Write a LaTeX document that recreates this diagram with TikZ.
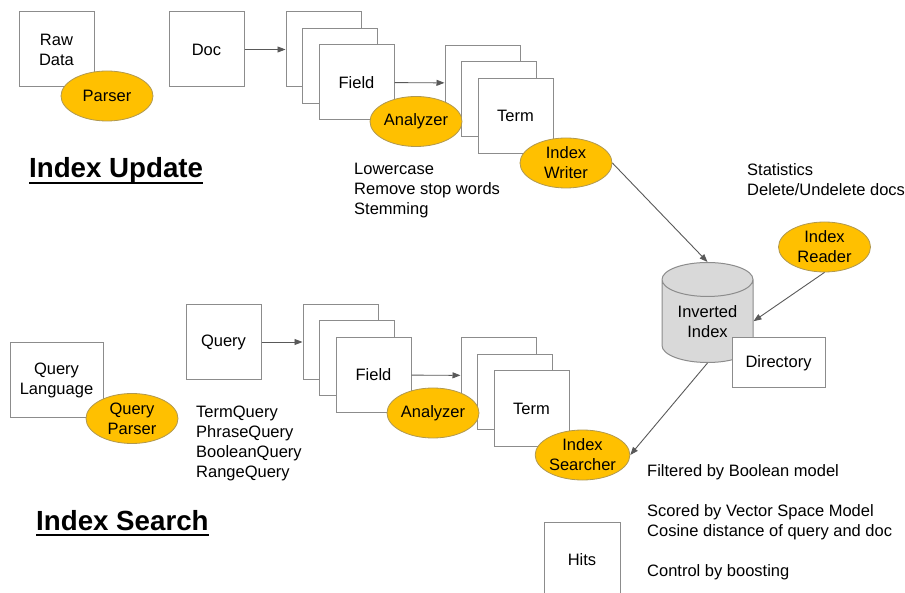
\documentclass[tikz,border=0pt]{standalone}
\usepackage{fontspec}
\setmainfont{Liberation Sans}
\usetikzlibrary{positioning, shapes.geometric, arrows.meta}

\definecolor{boxline}{HTML}{8C8C8C}
\definecolor{ovalfill}{HTML}{FFC000}
\definecolor{ovalline}{HTML}{B09850}
\definecolor{arrowline}{HTML}{595959}
\definecolor{cylfill}{HTML}{D9D9D9}

\newcommand{\headrule}[1]{\setbox0\hbox{#1}\rlap{\rule[-6pt]{\wd0}{2pt}}\box0}

\begin{document}
\begin{tikzpicture}[x=1pt, y=-1pt,
    every node/.style={font=\fontsize{16.5}{20}\selectfont},
    card/.style={draw=boxline, line width=1pt, fill=white, minimum width=75pt, minimum height=75pt, inner sep=0pt, align=center},
    oval/.style={ellipse, draw=ovalline, line width=0.8pt, fill=ovalfill, minimum width=92pt, minimum height=50pt, inner sep=0pt, align=center},
    flow/.style={draw=arrowline, line width=0.9pt, -{Triangle[length=8pt, width=6pt]}},
    notes/.style={anchor=north west, align=left, inner sep=0pt},
    heading/.style={anchor=base west, inner sep=0pt, font=\fontsize{27.7}{32}\selectfont\bfseries}]

    \clip (0,0) rectangle (905,593);

    % index update
    \node[card] (raw) at (56.5,49.5) {Raw\\Data};
    \node[oval] (parser) at (107,96) {Parser};
    \node[card] (doc) at (206.5,49.5) {Doc};
    \node[card] (fielda) at (323.5,49.5) {};
    \node[card] (fieldb) at ([shift={(16.5,16.5)}]fielda) {};
    \node[card] (fieldc) at ([shift={(16.5,16.5)}]fieldb) {Field};
    \node[card] (terma) at (482.5,83) {};
    \node[card] (termb) at ([shift={(16.5,16.5)}]terma) {};
    \node[card] (termc) at ([shift={(16.5,16.5)}]termb) {Term};
    \node[oval] (analyzer) at (416,121.5) {Analyzer};
    \node[oval] (writer) at (566,163) {Index\\Writer};
    \node[heading] (update) at (29,178) {\headrule{Index Update}};
    \node[notes] (filters) at (354,163) {Lowercase\\Remove stop words\\Stemming};
    \node[notes] (stats) at (747,163) {Statistics\\Delete/Undelete docs};

    % the index
    \node[cylinder, shape border rotate=90, draw=boxline, line width=1pt, fill=cylfill, minimum width=91pt, minimum height=100pt, aspect=0.57, inner sep=0pt, align=center, anchor=north] (inv) at (707.5,262) {Inverted\\Index};
    \node[card, minimum width=93pt, minimum height=50pt] (dir) at (778.5,363) {Directory};
    \node[oval] (reader) at (824.5,247) {Index\\Reader};

    % index search
    \node[card, minimum width=93pt] (lang) at (56.5,380.5) {Query\\Language};
    \node[oval] (qparser) at (132,418.5) {Query\\Parser};
    \node[card] (query) at (223.5,342) {Query};
    \node[card] (fielda2) at (340.5,342) {};
    \node[card] (fieldb2) at ([shift={(16.5,16.5)}]fielda2) {};
    \node[card] (fieldc2) at ([shift={(16.5,16.5)}]fieldb2) {Field};
    \node[card] (terma2) at (498.5,375.5) {};
    \node[card] (termb2) at ([shift={(16.5,16.5)}]terma2) {};
    \node[card] (termc2) at ([shift={(16.5,16.5)}]termb2) {Term};
    \node[oval] (analyzer2) at (433,413) {Analyzer};
    \node[oval] (searcher) at (582.5,455) {Index\\Searcher};
    \node[card, minimum width=76pt] (hits) at (582,559.5) {Hits};
    \node[notes] (queries) at (196,406) {TermQuery\\PhraseQuery\\BooleanQuery\\RangeQuery};
    \node[notes] (scoring) at (647,464) {Filtered by Boolean model\\[20pt]Scored by Vector Space Model\\Cosine distance of query and doc\\[20pt]Control by boosting};
    \node[heading] (search) at (36,530) {\headrule{Index Search}};

    \draw[flow] (doc) -- (fielda);
    \draw[flow] (fieldc) -- (terma);
    \draw[flow] (writer.east) -- (inv.north);
    \draw[flow] (reader.south) -- (inv.east);
    \draw[flow] (query) -- (fielda2);
    \draw[flow] (fieldc2) -- (terma2);
    \draw[flow] (inv.south) -- (searcher.east);
\end{tikzpicture}
\end{document}
